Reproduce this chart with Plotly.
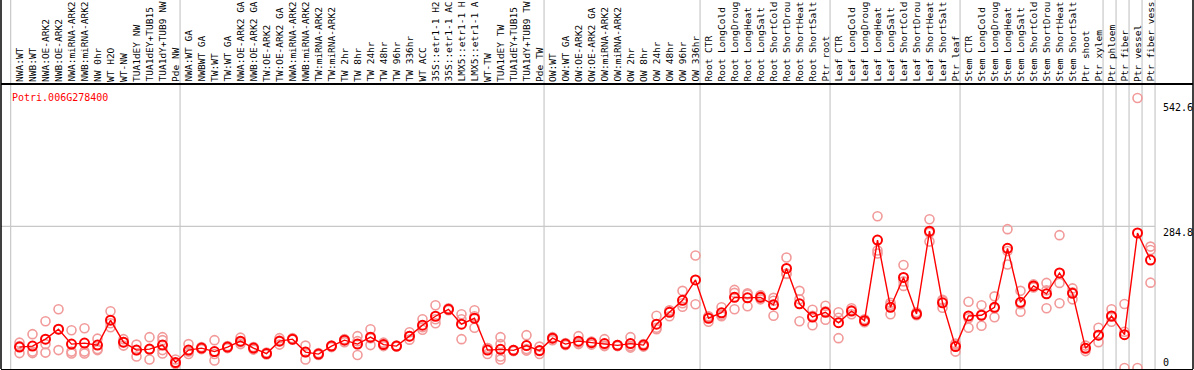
import plotly.graph_objects as go

title_text = "Potri.006G278400"

categories = [
    "NWA:WT", "NWB:WT", "NWA:OE-ARK2", "NWB:OE-ARK2", "NWA:miRNA-ARK2", "NWB:miRNA-ARK2",
    "NW 0hr", "WT H2O", "WT-NW", "TUA1dEY NW", "TUA1dEY+TUB15", "TUA1dY+TUB9 NW", "Pde NW",
    "NWA:WT GA", "NWBWT GA", "TW:WT", "TW:WT GA", "NWA:OE-ARK2 GA", "NWB:OE-ARK2 GA",
    "TW:OE-ARK2", "TW:OE-ARK2 GA", "NWA:miRNA-ARK2", "NWB:miRNA-ARK2", "TW:miRNA-ARK2",
    "TW:miRNA-ARK2 ", "TW 2hr", "TW 8hr", "TW 24hr", "TW 48hr", "TW 96hr", "TW 336hr",
    "WT ACC", "35S::etr1-1 H2", "35S::etr1-1 AC", "LMX5::etr1-1 H", "LMX5::etr1-1 A",
    "WT-TW", "TUA1dEY TW", "TUA1dEY+TUB15 ", "TUA1dY+TUB9 TW", "Pde TW",
    "OW:WT", "OW:WT GA", "OW:OE-ARK2", "OW:OE-ARK2 GA", "OW:miRNA-ARK2", "OW:miRNA-ARK2 ",
    "OW 2hr", "OW 8hr", "OW 24hr", "OW 48hr", "OW 96hr", "OW 336hr",
    "Root CTR", "Root LongCold", "Root LongDroug", "Root LongHeat", "Root LongSalt",
    "Root ShortCold", "Root ShortDrou", "Root ShortHeat", "Root ShortSalt", "Ptr root",
    "Leaf CTR", "Leaf LongCold", "Leaf LongDroug", "Leaf LongHeat", "Leaf LongSalt",
    "Leaf ShortCold", "Leaf ShortDrou", "Leaf ShortHeat", "Leaf ShortSalt", "Ptr leaf",
    "Stem CTR", "Stem LongCold", "Stem LongDroug", "Stem LongHeat", "Stem LongSalt",
    "Stem ShortCold", "Stem ShortDrou", "Stem ShortHeat", "Stem ShortSalt", "Ptr shoot",
    "Ptr xylem", "Ptr phloem", "Ptr fiber", "Ptr vessel", "Ptr fiber vess",
]

means = [
    42, 44, 58, 78, 48, 50, 46, 96, 52, 36, 38, 46, 11,
    36, 40, 33, 42, 54, 40, 29, 54, 58, 32, 28, 44, 56, 48, 62, 47, 44, 64,
    86, 104, 118, 88, 100, 36, 37.5, 35.5, 45, 35,
    60, 48, 54, 51, 49, 45.5, 49, 46, 88, 112, 136, 177,
    100, 111, 142, 141, 142, 127, 200, 129, 102.5, 112,
    91, 114.5, 95, 257, 122, 182, 108.5, 275, 131, 43,
    104.5, 106, 122, 240.5, 132, 165, 149, 191, 150, 39.5,
    66, 104.5, 67, 271.3, 217,
]

replicates = [
    [51, 30, 44], [68, 30, 33], [94, 48, 31], [118, 36, 78], [76, 33, 29], [80, 33, 29],
    [59, 38, 36], [114, 82, 90], [58, 45, 52], [47, 23, 36], [62, 17, 37], [62, 56, 36, 29],
    [17, 8, 9],
    [48, 28, 33], [42, 38, 39], [56, 15, 28], [44, 40, 42], [61, 48, 52], [42, 37, 40],
    [31, 27, 29], [60, 47, 55], [60, 57, 58], [45, 17, 32], [30, 26, 27], [45, 42, 44],
    [58, 52, 57], [64, 26, 54], [78, 46, 60], [51, 44, 47], [45, 43, 44], [72, 57, 64],
    [98, 77, 82], [126, 90, 98], [120, 116, 118], [108, 58, 98], [116, 81, 104],
    [28, 40, 40], [62, 23, 17, 48], [36, 34, 36], [66, 38, 35], [43, 28, 34],
    [62, 56, 60], [50, 46, 48], [64, 48, 51], [53, 47, 52], [58, 44, 45], [46, 44, 46],
    [62, 41, 44], [48, 43, 47], [105, 78, 81], [116, 104, 115], [155, 123, 130], [226, 128],
    [104, 93, 103], [122, 104, 107], [157, 151, 118], [148, 124, 150], [146, 138, 142],
    [141, 105, 135], [222, 189, 190], [155, 94, 138], [117, 86, 105], [125, 97, 114],
    [112, 60, 101], [120, 108, 116], [98, 92, 95], [305, 236, 230], [131, 108, 127],
    [207, 165, 174], [112, 106, 108], [299, 254, 272], [135, 121, 137], [47, 33, 49],
    [133, 81, 100], [126, 85, 107], [144, 102, 120], [279, 208, 235], [155, 113, 128],
    [168, 162, 165], [171, 120, 156], [267, 171, 130], [160, 138, 152], [45, 34, 40],
    [81, 52, 66], [118, 93, 103], [128.6, 73, 0], [542.6, 0], [244, 237, 171.5],
]

# last category index of each group (separator drawn just after it)
group_ends = [12, 40, 52, 62, 72, 83, 84, 85, 86, 87]
y_tick_values = [542.6, 284.8, 0]
y_tick_labels = ["542.6", "284.8", "0"]

W, H = 1194, 370
ML, MR, MT, MB = 1, 1, 85, 1
plot_w = W - ML - MR
plot_h = H - MT - MB
step = 13.0
x_first_px = 19.5
x_min = -(x_first_px - ML) / step
x_max = x_min + plot_w / step
y_min, y_max = -2.0, 568.7

FONT = "DejaVu Sans Mono"
RED = "#ff0000"
PINK = "#f29a9a"
GRID = "#c8c8c8"

def xpaper(v):
    return (v - x_min) / (x_max - x_min)

def ypaper_px(py):
    return (H - MB - py) / plot_h

top_paper = ypaper_px(0)

xs = list(range(len(categories)))
rep_x, rep_y = [], []
for i, reps in enumerate(replicates):
    for r in reps:
        rep_x.append(i)
        rep_y.append(r)

fig = go.Figure()
fig.add_trace(go.Scatter(
    x=rep_x, y=rep_y, mode="markers",
    marker=dict(symbol="circle-open", size=9, color=PINK, line=dict(width=1.6, color=PINK)),
    hoverinfo="skip", showlegend=False, cliponaxis=False,
))
fig.add_trace(go.Scatter(
    x=xs, y=means, mode="lines+markers",
    line=dict(color=RED, width=1.4),
    marker=dict(symbol="circle-open", size=9, color=RED, line=dict(width=2, color=RED)),
    hovertext=categories, showlegend=False, cliponaxis=False,
))

shapes = []
sep_positions = [-0.68] + [g + 0.35 for g in group_ends]
for s in sep_positions:
    shapes.append(dict(type="line", xref="paper", yref="paper",
                       x0=xpaper(s), x1=xpaper(s), y0=0, y1=top_paper,
                       line=dict(color=GRID, width=1.2), layer="below"))
shapes.append(dict(type="line", xref="paper", yref="y",
                   x0=0, x1=xpaper(87.35), y0=y_tick_values[1], y1=y_tick_values[1],
                   line=dict(color=GRID, width=1.2), layer="below"))
for xp in (0, 1):
    shapes.append(dict(type="line", xref="paper", yref="paper",
                       x0=xp, x1=xp, y0=0, y1=top_paper,
                       line=dict(color="black", width=1.5)))

annotations = []
for i, c in enumerate(categories):
    annotations.append(dict(
        x=i, xref="x", y=ypaper_px(84), yref="paper",
        text=c.strip(), textangle=-90, showarrow=False,
        xanchor="center", yanchor="bottom",
        font=dict(family=FONT, size=9.5, color="black"),
    ))
annotations.append(dict(
    x=xpaper(-0.7), xref="paper", y=ypaper_px(97), yref="paper",
    text=title_text, showarrow=False, xanchor="left", yanchor="middle",
    font=dict(family=FONT, size=10, color=RED),
))
label_centers_px = [107, 232, 362]
for lab, cy in zip(y_tick_labels, label_centers_px):
    annotations.append(dict(
        x=(1161 - ML) / plot_w, xref="paper", y=ypaper_px(cy), yref="paper",
        text=lab, showarrow=False, xanchor="left", yanchor="middle",
        font=dict(family=FONT, size=10, color="black"),
    ))

fig.update_layout(
    width=W, height=H,
    margin=dict(l=ML, r=MR, t=MT, b=MB, pad=0),
    paper_bgcolor="white", plot_bgcolor="white",
    showlegend=False,
    xaxis=dict(range=[x_min, x_max], showgrid=False, zeroline=False, showticklabels=False,
               ticks="", showline=True, linecolor="black", linewidth=1.5, mirror=True,
               automargin=False),
    yaxis=dict(range=[y_min, y_max], showgrid=False, zeroline=False, showticklabels=False,
               ticks="", showline=False, automargin=False),
    shapes=shapes,
    annotations=annotations,
)

fig.write_html(
    "out.html",
    config={"displayModeBar": False},
    post_script="document.body.style.margin='0';document.body.style.padding='0';",
)
